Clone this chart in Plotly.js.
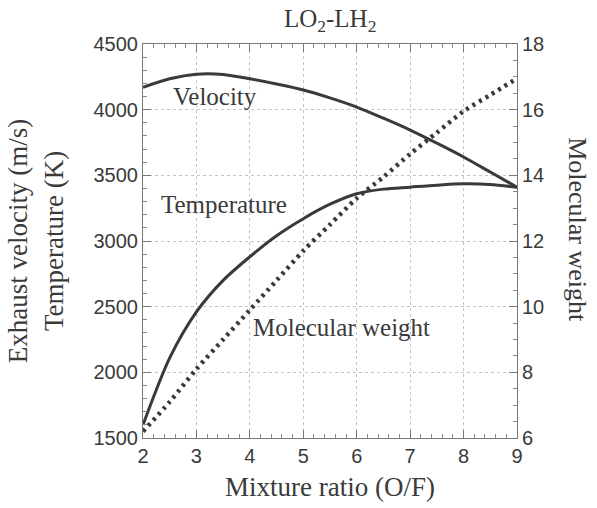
<!DOCTYPE html>
<html>
<head>
<meta charset="utf-8">
<script src="https://cdn.plot.ly/plotly-3.0.1.min.js"></script>
<style>html,body{margin:0;padding:0;background:#fff;}#chart{width:597px;height:508px;}</style>
</head>
<body>
<div id="chart"></div>
<script>
// Mixture ratio (O/F)
const mixtureRatio = [2, 2.5, 3, 3.5, 4, 4.5, 5, 5.5, 6, 6.5, 7, 7.5, 8, 8.5, 9];
// Exhaust velocity (m/s)
const velocity = [4170, 4235, 4270, 4268, 4235, 4195, 4150, 4090, 4020, 3935, 3845, 3745, 3640, 3525, 3410];
// Temperature (K)
const temperature = [1600, 2110, 2460, 2700, 2880, 3040, 3170, 3280, 3360, 3395, 3410, 3425, 3435, 3430, 3410];
// Molecular weight
const molecularWeight = [6.2, 7.1, 8.1, 9.0, 9.9, 10.8, 11.7, 12.5, 13.3, 13.95, 14.65, 15.3, 15.95, 16.45, 16.95];

const xTicks = [2, 3, 4, 5, 6, 7, 8, 9];
const leftTicks = [1500, 2000, 2500, 3000, 3500, 4000, 4500];
const rightTicks = [6, 8, 10, 12, 14, 16, 18];

const serif = "Liberation Serif, Times New Roman, serif";
const sans = "Liberation Sans, Arial, sans-serif";
const ink = "#3a3a3a";

const traces = [
  {x: mixtureRatio, y: velocity, type: "scatter", mode: "lines", name: "Velocity",
   line: {color: ink, width: 3, shape: "spline", smoothing: 0.8}, yaxis: "y"},
  {x: mixtureRatio, y: temperature, type: "scatter", mode: "lines", name: "Temperature",
   line: {color: ink, width: 3, shape: "spline", smoothing: 0.8}, yaxis: "y"},
  {x: mixtureRatio, y: molecularWeight, type: "scatter", mode: "lines", name: "Molecular weight",
   line: {color: ink, width: 4.5, dash: "3px,4.5px", shape: "spline", smoothing: 0.8}, yaxis: "y2"}
];

const layout = {
  width: 597, height: 508,
  margin: {l: 143, r: 80, t: 44, b: 70},
  paper_bgcolor: "#fff", plot_bgcolor: "#fff",
  showlegend: false,
  title: {text: "LO<sub>2</sub>-LH<sub>2</sub>", font: {family: serif, size: 25, color: ink},
          x: 0.553, xanchor: "center", y: 0.965, yanchor: "middle"},
  xaxis: {
    range: [2, 9], tickvals: xTicks, ticktext: xTicks.map(String),
    ticks: "inside", ticklen: 8, tickcolor: "#777", tickwidth: 1,
    minor: {dtick: 0.2, ticks: "inside", ticklen: 4, tickcolor: "#888", showgrid: false},
    showline: true, linecolor: "#777", linewidth: 1, mirror: "ticks",
    showgrid: true, gridcolor: "#c4c4c4", griddash: "dot", gridwidth: 1,
    zeroline: false,
    tickfont: {family: sans, size: 20, color: ink},
    title: {text: "Mixture ratio (O/F)", font: {family: serif, size: 27, color: ink}, standoff: 11}
  },
  yaxis: {
    range: [1500, 4500], tickvals: leftTicks, ticktext: leftTicks.map(String),
    ticks: "inside", ticklen: 8, tickcolor: "#777", tickwidth: 1,
    minor: {dtick: 100, ticks: "inside", ticklen: 4, tickcolor: "#888", showgrid: false},
    showline: true, linecolor: "#777", linewidth: 1,
    showgrid: true, gridcolor: "#c4c4c4", griddash: "dot", gridwidth: 1,
    zeroline: false,
    tickfont: {family: sans, size: 20, color: ink},
    title: {text: "Exhaust velocity (m/s)<br>Temperature (K)", font: {family: serif, size: 27, color: ink}, standoff: 22}
  },
  yaxis2: {
    overlaying: "y", side: "right", range: [6, 18], tickvals: rightTicks, ticktext: rightTicks.map(String),
    ticks: "inside", ticklen: 8, tickcolor: "#777", tickwidth: 1,
    minor: {dtick: 0.5, ticks: "inside", ticklen: 4, tickcolor: "#888", showgrid: false},
    showline: true, linecolor: "#777", linewidth: 1,
    showgrid: false, zeroline: false,
    tickfont: {family: sans, size: 20, color: ink}
  },
  annotations: [
    {x: 3.35, y: 4100, xref: "x", yref: "y", text: "Velocity", showarrow: false,
     font: {family: serif, size: 25, color: ink}},
    {x: 3.52, y: 3275, xref: "x", yref: "y", text: "Temperature", showarrow: false,
     font: {family: serif, size: 25, color: ink}},
    {x: 5.71, y: 2345, xref: "x", yref: "y", text: "Molecular weight", showarrow: false,
     font: {family: serif, size: 25, color: ink}},
    {x: 1.160, y: 0.528, xref: "paper", yref: "paper", xanchor: "center", yanchor: "middle",
     text: "Molecular weight", showarrow: false,
     textangle: 90, font: {family: serif, size: 26, color: ink}}
  ]
};

Plotly.newPlot("chart", traces, layout, {displayModeBar: false, staticPlot: true});
</script>
</body>
</html>
